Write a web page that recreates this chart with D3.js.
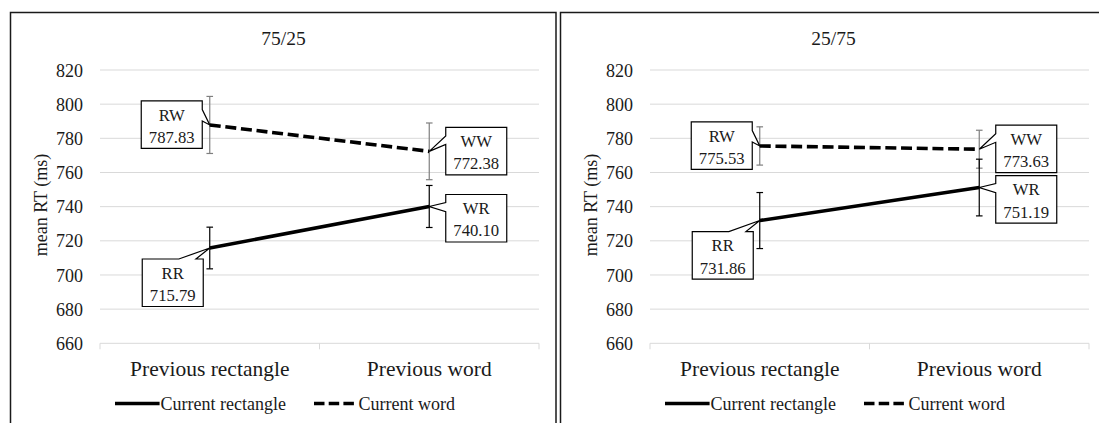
<!DOCTYPE html>
<html><head><meta charset="utf-8">
<script src="https://cdn.jsdelivr.net/npm/d3@7"></script>
<style>
html,body{margin:0;padding:0;background:#fff;}
svg{display:block;font-family:"Liberation Serif","Times New Roman",serif;}
</style></head>
<body>
<svg id="chart" width="1099" height="423"></svg>
<script>
// ---- data ----
const categories = ["Previous rectangle", "Previous word"];
const panelTitles = ["75/25", "25/75"];
const seriesNames = ["Current rectangle", "Current word"];
const yTicks = [660, 680, 700, 720, 740, 760, 780, 800, 820];

const rectValues7525 = [715.79, 740.10];
const wordValues7525 = [787.83, 772.38];
const rectValues2575 = [731.86, 751.19];
const wordValues2575 = [775.53, 773.63];

const rectErr7525 = [12.2, 12.3];
const wordErr7525 = [16.7, 16.6];
const rectErr2575 = [16.4, 16.6];
const wordErr2575 = [11.2, 11.1];

const rectCodes = ["RR", "WR"];
const wordCodes = ["RW", "WW"];

// ---- layout ----
const svg = d3.select("#chart");
const panelOffset = 550;
const x = d3.scaleBand().domain(categories).range([100, 539]);
const cx = c => x(c) + x.bandwidth() / 2;
const y = d3.scaleLinear().domain([660, 820]).range([343.3, 70]);

// callout placement: box top-left offset from point, wedge side & base fractions
const calloutLayout = {
  RW: {dx: -68.5, dy: -24, side: "right", f1: 0.18, f2: 0.42},
  WW: {dx: 16.5, dy: -24, side: "left", f1: 0.18, f2: 0.36},
  WR: {dx: 16.5, dy: -12, side: "left", f1: 0.17, f2: 0.36},
  RR: {dx: -67.5, dy: 11, side: "top", f1: 0.6, f2: 0.88}
};
const boxW = 61, boxH = 47.5;

const panels = [
  {title: panelTitles[0], rect: rectValues7525, word: wordValues7525, rectErr: rectErr7525, wordErr: wordErr7525},
  {title: panelTitles[1], rect: rectValues2575, word: wordValues2575, rectErr: rectErr2575, wordErr: wordErr2575}
];

function calloutPath(bx, by, w, h, tx, ty, side, f1, f2) {
  const p = [[bx, by]];
  if (side === "top") p.push([bx + w * f1, by], [tx, ty], [bx + w * f2, by]);
  p.push([bx + w, by]);
  if (side === "right") p.push([bx + w, by + h * f1], [tx, ty], [bx + w, by + h * f2]);
  p.push([bx + w, by + h]);
  if (side === "bottom") p.push([bx + w * f2, by + h], [tx, ty], [bx + w * f1, by + h]);
  p.push([bx, by + h]);
  if (side === "left") p.push([bx, by + h * f2], [tx, ty], [bx, by + h * f1]);
  return "M" + p.map(d => d.join(",")).join("L") + "Z";
}

panels.forEach((P, i) => {
  const g = svg.append("g").attr("transform", `translate(${i * panelOffset},0)`);

  // panel border (bottom runs off the picture)
  g.append("path")
    .attr("d", "M10.5,430V12.5H556V430")
    .attr("fill", "none").attr("stroke", "#1a1a1a").attr("stroke-width", 1.5);

  // title
  g.append("text").attr("x", 283.5).attr("y", 45).attr("text-anchor", "middle")
    .attr("font-size", 19.5).attr("fill", "#1a1a1a").text(P.title);

  // gridlines
  g.selectAll(".grid").data(yTicks.filter(t => t !== 660)).enter().append("line")
    .attr("x1", 100).attr("x2", 539).attr("y1", d => y(d)).attr("y2", d => y(d))
    .attr("stroke", "#d9d9d9").attr("stroke-width", 1);

  // y axis labels
  const yAxis = d3.axisLeft(y).tickValues(yTicks).tickSize(0).tickPadding(0);
  const ya = g.append("g").attr("transform", "translate(83,0)").call(yAxis);
  ya.select(".domain").remove();
  ya.selectAll("text").attr("font-size", 18).attr("fill", "#1a1a1a")
    .attr("font-family", "Liberation Serif").attr("dy", "0.34em");

  // x axis
  const xa = g.append("g").attr("transform", `translate(0,${y(660)})`);
  xa.append("line").attr("x1", 100).attr("x2", 539).attr("stroke", "#d9d9d9").attr("stroke-width", 1);
  const bounds = [x(categories[0]), x(categories[1]), x(categories[1]) + x.bandwidth()];
  xa.selectAll(".tk").data(bounds).enter().append("line")
    .attr("x1", d => d).attr("x2", d => d).attr("y1", 0).attr("y2", 6)
    .attr("stroke", "#d9d9d9").attr("stroke-width", 1);
  g.selectAll(".cat").data(categories).enter().append("text")
    .attr("x", d => cx(d)).attr("y", 376).attr("text-anchor", "middle")
    .attr("font-size", 21.5).attr("fill", "#1a1a1a").text(d => d);

  // axis title
  g.append("text").attr("transform", "translate(46.5,205) rotate(-90)")
    .attr("text-anchor", "middle").attr("font-size", 18).attr("fill", "#1a1a1a").text("mean RT (ms)");

  // error bars
  const errData = [];
  categories.forEach((c, k) => {
    errData.push({c, v: P.word[k], e: P.wordErr[k], color: "#7f7f7f"});
    errData.push({c, v: P.rect[k], e: P.rectErr[k], color: "#000"});
  });
  const eb = g.selectAll(".eb").data(errData).enter().append("g");
  eb.append("line").attr("x1", d => cx(d.c)).attr("x2", d => cx(d.c))
    .attr("y1", d => y(d.v + d.e)).attr("y2", d => y(d.v - d.e))
    .attr("stroke", d => d.color).attr("stroke-width", 1.2);
  eb.append("line").attr("x1", d => cx(d.c) - 3.3).attr("x2", d => cx(d.c) + 3.3)
    .attr("y1", d => y(d.v + d.e)).attr("y2", d => y(d.v + d.e))
    .attr("stroke", d => d.color).attr("stroke-width", 1.2);
  eb.append("line").attr("x1", d => cx(d.c) - 3.3).attr("x2", d => cx(d.c) + 3.3)
    .attr("y1", d => y(d.v - d.e)).attr("y2", d => y(d.v - d.e))
    .attr("stroke", d => d.color).attr("stroke-width", 1.2);

  // series lines
  const line = d3.line().x(d => cx(d.c)).y(d => y(d.v));
  g.append("path").datum(categories.map((c, k) => ({c, v: P.rect[k]})))
    .attr("d", line).attr("fill", "none").attr("stroke", "#000").attr("stroke-width", 3.6);
  g.append("path").datum(categories.map((c, k) => ({c, v: P.word[k]})))
    .attr("d", line).attr("fill", "none").attr("stroke", "#000").attr("stroke-width", 3.6)
    .attr("stroke-dasharray", "11,4.7");

  // callouts
  const callouts = [];
  categories.forEach((c, k) => {
    callouts.push({c, v: P.word[k], code: wordCodes[k]});
    callouts.push({c, v: P.rect[k], code: rectCodes[k]});
  });
  callouts.forEach(d => {
    const L = calloutLayout[d.code];
    const tx = cx(d.c), ty = y(d.v);
    const bx = tx + L.dx, by = ty + L.dy;
    g.append("path").attr("d", calloutPath(bx, by, boxW, boxH, tx, ty, L.side, L.f1, L.f2))
      .attr("fill", "#fff").attr("stroke", "#000").attr("stroke-width", 1.2);
    g.append("text").attr("x", bx + boxW / 2).attr("y", by + 19.8).attr("text-anchor", "middle")
      .attr("font-size", 16.7).attr("fill", "#1a1a1a").text(d.code);
    g.append("text").attr("x", bx + boxW / 2).attr("y", by + 42).attr("text-anchor", "middle")
      .attr("font-size", 16.7).attr("fill", "#1a1a1a").text(d.v.toFixed(2));
  });

  // legend
  const lg = g.append("g");
  lg.append("line").attr("x1", 115).attr("x2", 159.6).attr("y1", 403.5).attr("y2", 403.5)
    .attr("stroke", "#000").attr("stroke-width", 3.6);
  lg.append("text").attr("x", 160.6).attr("y", 409.5).attr("font-size", 18).attr("fill", "#1a1a1a").text(seriesNames[0]);
  lg.append("line").attr("x1", 314).attr("x2", 354).attr("y1", 403.5).attr("y2", 403.5)
    .attr("stroke", "#000").attr("stroke-width", 3.6).attr("stroke-dasharray", "10.5,4.2");
  lg.append("text").attr("x", 358.5).attr("y", 409.5).attr("font-size", 18).attr("fill", "#1a1a1a").text(seriesNames[1]);
});
</script>
</body></html>
